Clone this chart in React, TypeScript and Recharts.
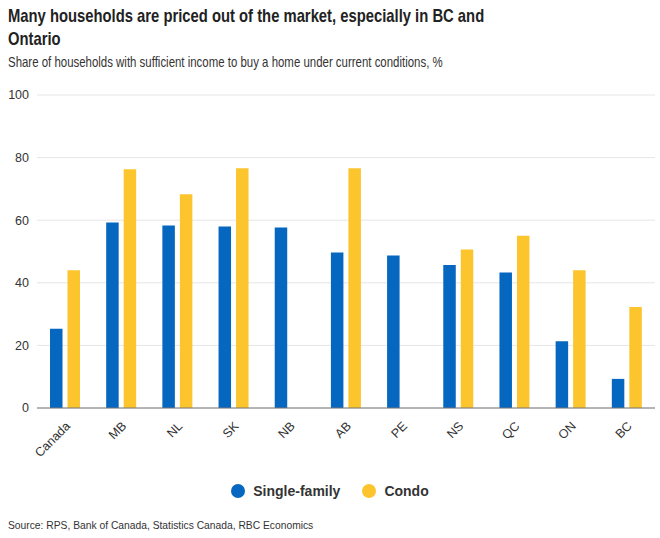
import React from "react";
import { BarChart, Bar, XAxis, YAxis, CartesianGrid } from "recharts";

const categories = ["Canada", "MB", "NL", "SK", "NB", "AB", "PE", "NS", "QC", "ON", "BC"];
const singleFamily = [25.3, 59.3, 58.3, 58.0, 57.7, 49.7, 48.7, 45.7, 43.3, 21.3, 9.3];
const condo: (number | null)[] = [44.0, 76.3, 68.3, 76.6, null, 76.6, null, 50.6, 55.0, 44.0, 32.3];
const yTicks = [0, 20, 40, 60, 80, 100];

const BLUE = "#0567bf";
const YELLOW = "#fcc52e";
const FONT = "'Liberation Sans', Arial, sans-serif";

const data = categories.map((c, i) => ({ name: c, single: singleFamily[i], condo: condo[i] }));

const RotTick = (props: any) => {
  const { x, y, payload } = props;
  return (
    <g transform={`translate(${x + 3},${y + 8})`}>
      <text
        x={0}
        y={0}
        dy={4}
        textAnchor="end"
        transform="rotate(-45)"
        fill="#333"
        fontSize={12.5}
        fontFamily={FONT}
      >
        {payload.value}
      </text>
    </g>
  );
};

export default function App() {
  return (
    <div style={{ position: "absolute", left: 0, top: 0, width: 660, height: 538, background: "#fff", fontFamily: FONT, overflow: "hidden" }}>
      <div style={{ position: "absolute", left: 8, top: 4, fontSize: 18.5, fontWeight: "bold", color: "#222", lineHeight: "23px", whiteSpace: "nowrap", transform: "scaleX(0.80)", transformOrigin: "0 0" }}>
        Many households are priced out of the market, especially in BC and
        <br />
        Ontario
      </div>
      <div style={{ position: "absolute", left: 8, top: 53, fontSize: 14.3, color: "#333", lineHeight: "18px", whiteSpace: "nowrap", transform: "scaleX(0.80)", transformOrigin: "0 0" }}>
        Share of households with sufficient income to buy a home under current conditions, %
      </div>
      <div style={{ position: "absolute", left: 0, top: 0 }}>
        <BarChart width={660} height={470} data={data} margin={{ top: 95, right: 5, left: 0, bottom: 0 }} barSize={12.5} barGap={5}>
          <CartesianGrid vertical={false} stroke="#e6e6e6" />
          <XAxis
            dataKey="name"
            height={62}
            interval={0}
            tickLine={false}
            axisLine={{ stroke: "#777" }}
            tick={<RotTick />}
          />
          <YAxis
            width={37}
            domain={[0, 100]}
            ticks={yTicks}
            axisLine={false}
            tickLine={false}
            tick={{ fill: "#333", fontSize: 12.5, fontFamily: FONT }}
          />
          <Bar dataKey="single" name="Single-family" fill={BLUE} isAnimationActive={false} />
          <Bar dataKey="condo" name="Condo" fill={YELLOW} isAnimationActive={false} />
        </BarChart>
      </div>
      <div style={{ position: "absolute", left: 0, top: 483, width: 660, display: "flex", justifyContent: "center", alignItems: "center", fontSize: 14, fontWeight: "bold", color: "#333" }}>
        <span style={{ display: "inline-block", width: 14, height: 14, borderRadius: 7, background: BLUE, marginRight: 8 }} />
        <span style={{ marginRight: 22 }}>Single-family</span>
        <span style={{ display: "inline-block", width: 14, height: 14, borderRadius: 7, background: YELLOW, marginRight: 8 }} />
        <span>Condo</span>
      </div>
      <div style={{ position: "absolute", left: 8, top: 519, fontSize: 11, color: "#333", whiteSpace: "nowrap", transform: "scaleX(0.935)", transformOrigin: "0 0" }}>
        Source: RPS, Bank of Canada, Statistics Canada, RBC Economics
      </div>
    </div>
  );
}
